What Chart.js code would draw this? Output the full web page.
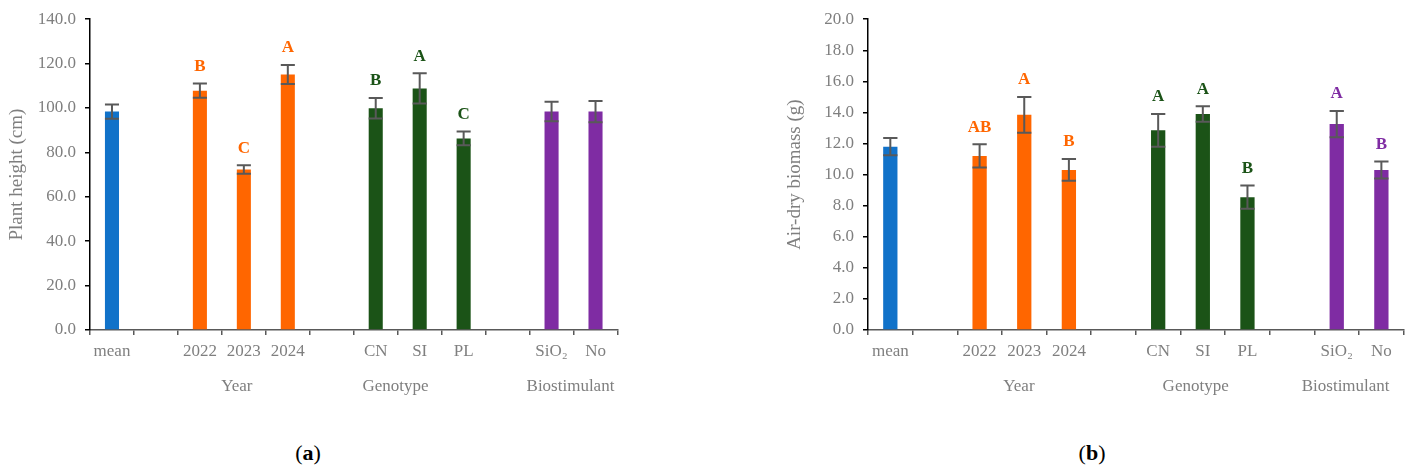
<!DOCTYPE html>
<html>
<head>
<meta charset="utf-8">
<script src="https://cdn.jsdelivr.net/npm/chart.js@4.4.1/dist/chart.umd.min.js"></script>
<style>
  body { margin: 0; background: #fff; width: 1409px; height: 473px; position: relative; overflow: hidden; }
  .box { position: absolute; top: 0; height: 420px; }
  .panel { position: absolute; top: 439px; font-family: "Liberation Serif", serif; font-size: 22px; line-height: 28px; color: #000; transform: translateX(-50%); }
  .panel b { font-weight: 700; }
</style>
</head>
<body>
<div class="box" style="left:0;width:640px"><canvas id="chartA"></canvas></div>
<div class="box" style="left:778px;width:631px"><canvas id="chartB"></canvas></div>
<div class="panel" style="left:308px">(<b>a</b>)</div>
<div class="panel" style="left:1092px">(<b>b</b>)</div>
<script>
// data
var categories = ["mean", "", "2022", "2023", "2024", "", "CN", "SI", "PL", "", "SiO\u2082", "No"];
var groupNames = ["Year", "Genotype", "Biostimulant"];

var heightMean = [98.4, null, 107.8, 72.3, 115.1, null, 99.9, 108.8, 86.3, null, 98.4, 98.4];
var heightErr = [3.2, null, 3.2, 1.9, 4.3, null, 4.6, 6.8, 3.1, null, 4.4, 4.8];
var heightLetters = ["", "", "B", "C", "A", "", "B", "A", "C", "", "", ""];

var biomassMean = [11.8, null, 11.2, 13.85, 10.3, null, 12.85, 13.9, 8.55, null, 13.25, 10.3];
var biomassErr = [0.55, null, 0.75, 1.15, 0.7, null, 1.05, 0.5, 0.75, null, 0.85, 0.55];
var biomassLetters = ["", "", "AB", "A", "B", "", "A", "A", "B", "", "A", "B"];

// colours
var blue = "#1172c9", orange = "#ff6600", green = "#1b5317", purple = "#7f2ca3";
var barColors = [blue, null, orange, orange, orange, null, green, green, green, null, purple, purple];
var errColor = "#595959";
var textGray = "#7f7f7f";
var serif = "'Liberation Serif', 'Times New Roman', serif";

// error bars, letters and group captions
var extrasPlugin = {
  id: "extras",
  afterDatasetsDraw: function (chart, args, opts) {
    var ctx = chart.ctx;
    var meta = chart.getDatasetMeta(0);
    var y = chart.scales.y;
    var vals = chart.data.datasets[0].data;
    ctx.save();
    meta.data.forEach(function (bar, i) {
      if (vals[i] == null) return;
      var e = opts.err[i];
      var top = y.getPixelForValue(vals[i] + e);
      var bot = y.getPixelForValue(vals[i] - e);
      var half = bar.width / 2;
      ctx.strokeStyle = errColor;
      ctx.lineWidth = 2;
      ctx.beginPath();
      ctx.moveTo(bar.x, top); ctx.lineTo(bar.x, bot);
      ctx.moveTo(bar.x - half, top); ctx.lineTo(bar.x + half, top);
      ctx.moveTo(bar.x - half, bot); ctx.lineTo(bar.x + half, bot);
      ctx.stroke();
      if (opts.letters[i]) {
        ctx.fillStyle = barColors[i];
        ctx.font = "bold 17px " + serif;
        ctx.textAlign = "center";
        ctx.textBaseline = "middle";
        ctx.fillText(opts.letters[i], bar.x, top - 17);
      }
    });
    ctx.restore();
  },
  afterDraw: function (chart, args, opts) {
    var ctx = chart.ctx;
    var x = chart.scales.x;
    ctx.save();
    ctx.fillStyle = textGray;
    ctx.font = "17px " + serif;
    ctx.textAlign = "center";
    ctx.textBaseline = "middle";
    groupNames.forEach(function (name, k) {
      ctx.fillText(name, x.getPixelForValue(opts.groupAt[k]), 387);
    });
    ctx.restore();
  }
};

function makeChart(id, values, errs, letters, yTitle, yMax, yStep, padRight, groupAt) {
  var ctx = document.getElementById(id).getContext("2d");
  return new Chart(ctx, {
    type: "bar",
    data: {
      labels: categories,
      datasets: [{
        data: values,
        backgroundColor: barColors,
        categoryPercentage: 1,
        barPercentage: 0.32
      }]
    },
    plugins: [extrasPlugin],
    options: {
      responsive: true,
      maintainAspectRatio: false,
      animation: false,
      layout: { padding: { top: 17, right: padRight, bottom: 0, left: 0 } },
      plugins: {
        legend: { display: false },
        tooltip: { enabled: false },
        extras: { err: errs, letters: letters, groupAt: groupAt }
      },
      scales: {
        x: {
          afterFit: function (s) { s.height = 90; },
          grid: { display: true, drawOnChartArea: false, offset: true, tickLength: 5, color: errColor, lineWidth: 1.5 },
          border: { color: errColor, width: 1.5 },
          ticks: { color: textGray, font: { family: serif, size: 17 }, padding: 6, maxRotation: 0, autoSkip: false }
        },
        y: {
          min: 0,
          max: yMax,
          afterFit: function (s) { s.width = 90; },
          grid: { display: true, drawOnChartArea: false, tickLength: 5, color: "#000", lineWidth: 1.5 },
          border: { color: "#000", width: 1.5 },
          ticks: {
            stepSize: yStep,
            color: textGray,
            font: { family: serif, size: 17 },
            padding: 9,
            callback: function (v) { return v.toFixed(1); }
          },
          title: { display: true, text: yTitle, color: textGray, font: { family: serif, size: 19 }, padding: { top: 6, bottom: 0 } }
        }
      }
    }
  });
}

var chartA = makeChart("chartA", heightMean, heightErr, heightLetters, "Plant height (cm)", 140, 20, 22.5, [2.84, 6.45, 10.43]);
var chartB = makeChart("chartB", biomassMean, biomassErr, biomassLetters, "Air-dry biomass (g)", 20, 2, 5.3, [2.88, 6.84, 10.2]);
</script>
</body>
</html>
